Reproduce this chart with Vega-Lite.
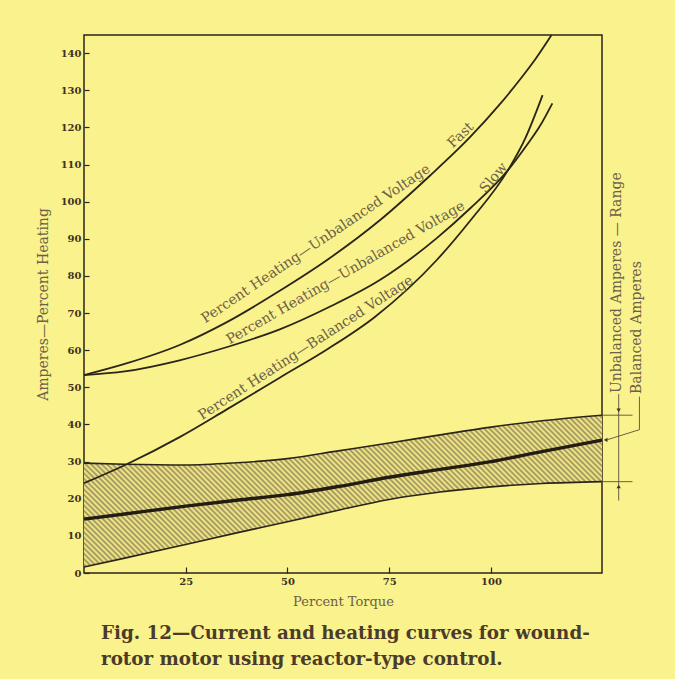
{
  "$schema": "https://vega.github.io/schema/vega-lite/v6.json",
  "width": 518,
  "height": 538,
  "autosize": {"type": "none"},
  "padding": {"left": 84, "top": 35, "right": 73, "bottom": 106},
  "background": "#faf28c",
  "config": {
    "view": {"stroke": "#2b2519", "strokeWidth": 1.5},
    "font": "DejaVu Serif",
    "axis": {
      "domain": false, "grid": false,
      "tickColor": "#2b2519", "tickWidth": 1.2,
      "labelFont": "DejaVu Serif", "labelFontSize": 10, "labelFontWeight": "bold", "labelColor": "#3b3222",
      "titleFont": "DejaVu Serif", "titleFontWeight": "normal", "titleColor": "#6b6048",
      "labelOverlap": false
    }
  },
  "title": {
    "text": ["Fig. 12—Current and heating curves for wound-", "rotor motor using reactor-type control."],
    "orient": "bottom",
    "anchor": "start",
    "frame": "group",
    "font": "DejaVu Serif",
    "fontSize": 18.3,
    "fontWeight": "bold",
    "color": "#4a3b2a",
    "dx": 17,
    "offset": 17,
    "lineHeight": 26
  },
  "encoding": {
    "x": {
      "field": "x", "type": "quantitative",
      "scale": {"domain": [0, 127.3], "nice": false, "zero": false},
      "axis": {
        "values": [25, 50, 75, 100],
        "title": "Percent Torque",
        "tickSize": -6,
        "labelPadding": 9,
        "titleFontSize": 13,
        "titlePadding": 9
      }
    },
    "y": {
      "field": "y", "type": "quantitative",
      "scale": {"domain": [0, 144.9], "nice": false, "zero": false},
      "axis": {
        "values": [0, 10, 20, 30, 40, 50, 60, 70, 80, 90, 100, 110, 120, 130, 140],
        "title": "Amperes—Percent Heating",
        "tickSize": -5,
        "labelPadding": 8,
        "titleFontSize": 14,
        "titlePadding": 10
      }
    }
  },
  "datasets": {
    "band": [
      {"x": 0, "lo": 1.6, "mid": 14.5, "hi": 29.6},
      {"x": 10, "lo": 4.0, "mid": 15.9, "hi": 29.3},
      {"x": 25, "lo": 7.7, "mid": 18.0, "hi": 29.1},
      {"x": 37.5, "lo": 10.8, "mid": 19.6, "hi": 29.7},
      {"x": 50, "lo": 13.8, "mid": 21.1, "hi": 30.8},
      {"x": 62.5, "lo": 16.9, "mid": 23.3, "hi": 32.9},
      {"x": 75, "lo": 19.8, "mid": 25.8, "hi": 35.0},
      {"x": 87.5, "lo": 21.8, "mid": 27.9, "hi": 37.2},
      {"x": 100, "lo": 23.2, "mid": 30.0, "hi": 39.3},
      {"x": 112.5, "lo": 24.1, "mid": 32.7, "hi": 41.0},
      {"x": 127.3, "lo": 24.6, "mid": 35.8, "hi": 42.5}
    ],
    "curves": [
      {"s": "fast", "x": 0, "y": 53.3},
      {"s": "fast", "x": 10, "y": 56.3},
      {"s": "fast", "x": 23.5, "y": 61.4},
      {"s": "fast", "x": 35, "y": 67.5},
      {"s": "fast", "x": 48.1, "y": 76},
      {"s": "fast", "x": 60, "y": 84.5},
      {"s": "fast", "x": 72.7, "y": 95},
      {"s": "fast", "x": 85, "y": 107},
      {"s": "fast", "x": 94.8, "y": 117.3},
      {"s": "fast", "x": 102, "y": 126},
      {"s": "fast", "x": 107, "y": 132.7},
      {"s": "fast", "x": 111, "y": 138.5},
      {"s": "fast", "x": 114.9, "y": 144.9},
      {"s": "slow", "x": 0, "y": 53.3},
      {"s": "slow", "x": 10, "y": 54.3},
      {"s": "slow", "x": 23.5, "y": 57.3},
      {"s": "slow", "x": 35, "y": 60.8},
      {"s": "slow", "x": 48.1, "y": 65.6},
      {"s": "slow", "x": 60, "y": 71.5},
      {"s": "slow", "x": 72.7, "y": 78.9},
      {"s": "slow", "x": 86.7, "y": 90.2},
      {"s": "slow", "x": 95, "y": 98.3},
      {"s": "slow", "x": 104.2, "y": 108.5},
      {"s": "slow", "x": 108.8, "y": 115.2},
      {"s": "slow", "x": 112, "y": 120.3},
      {"s": "slow", "x": 115.1, "y": 126.5},
      {"s": "bal", "x": 0, "y": 24.2},
      {"s": "bal", "x": 10.5, "y": 29.3},
      {"s": "bal", "x": 23.5, "y": 36.6},
      {"s": "bal", "x": 35, "y": 44},
      {"s": "bal", "x": 48.1, "y": 52.6},
      {"s": "bal", "x": 60, "y": 60.4},
      {"s": "bal", "x": 71.4, "y": 68.9},
      {"s": "bal", "x": 86.7, "y": 84.3},
      {"s": "bal", "x": 95, "y": 95},
      {"s": "bal", "x": 104.2, "y": 108.5},
      {"s": "bal", "x": 108.5, "y": 117.2},
      {"s": "bal", "x": 112.7, "y": 128.7}
    ],
    "ann": [
      {"g": "dim", "o": 1, "x": 131.4, "y": 48.2},
      {"g": "dim", "o": 2, "x": 131.4, "y": 19.5},
      {"g": "ext1", "o": 1, "x": 127.3, "y": 42.5},
      {"g": "ext1", "o": 2, "x": 134.8, "y": 42.5},
      {"g": "ext2", "o": 1, "x": 127.3, "y": 24.6},
      {"g": "ext2", "o": 2, "x": 134.8, "y": 24.6},
      {"g": "lead", "o": 1, "x": 136.5, "y": 47.5},
      {"g": "lead", "o": 2, "x": 136.5, "y": 38.6},
      {"g": "lead", "o": 3, "x": 128.6, "y": 35.9}
    ],
    "arrows": [
      {"dir": "down", "x": 131.4, "y": 43.8},
      {"dir": "up", "x": 131.4, "y": 23.3},
      {"dir": "left", "x": 128.2, "y": 35.85}
    ]
  },
  "layer": [
    {
      "data": {"name": "band"},
      "mark": {
        "type": "area",
        "fill": {
          "gradient": "linear",
          "x1": 0, "y1": 1, "x2": 1.1909, "y2": 0.6506,
          "stops": [
            {"offset": 0, "color": "#faf28c"}, {"offset": 0.004, "color": "#9c8e5c"}, {"offset": 0.008, "color": "#faf28c"}, {"offset": 0.012, "color": "#9c8e5c"}, {"offset": 0.016, "color": "#faf28c"}, {"offset": 0.02, "color": "#9c8e5c"}, {"offset": 0.024, "color": "#faf28c"}, {"offset": 0.028, "color": "#9c8e5c"}, {"offset": 0.032, "color": "#faf28c"}, {"offset": 0.036, "color": "#9c8e5c"},
            {"offset": 0.04, "color": "#faf28c"}, {"offset": 0.044, "color": "#9c8e5c"}, {"offset": 0.048, "color": "#faf28c"}, {"offset": 0.052, "color": "#9c8e5c"}, {"offset": 0.056, "color": "#faf28c"}, {"offset": 0.06, "color": "#9c8e5c"}, {"offset": 0.064, "color": "#faf28c"}, {"offset": 0.068, "color": "#9c8e5c"}, {"offset": 0.072, "color": "#faf28c"}, {"offset": 0.076, "color": "#9c8e5c"},
            {"offset": 0.08, "color": "#faf28c"}, {"offset": 0.084, "color": "#9c8e5c"}, {"offset": 0.088, "color": "#faf28c"}, {"offset": 0.092, "color": "#9c8e5c"}, {"offset": 0.096, "color": "#faf28c"}, {"offset": 0.1, "color": "#9c8e5c"}, {"offset": 0.104, "color": "#faf28c"}, {"offset": 0.108, "color": "#9c8e5c"}, {"offset": 0.112, "color": "#faf28c"}, {"offset": 0.116, "color": "#9c8e5c"},
            {"offset": 0.12, "color": "#faf28c"}, {"offset": 0.124, "color": "#9c8e5c"}, {"offset": 0.128, "color": "#faf28c"}, {"offset": 0.132, "color": "#9c8e5c"}, {"offset": 0.136, "color": "#faf28c"}, {"offset": 0.14, "color": "#9c8e5c"}, {"offset": 0.144, "color": "#faf28c"}, {"offset": 0.148, "color": "#9c8e5c"}, {"offset": 0.152, "color": "#faf28c"}, {"offset": 0.156, "color": "#9c8e5c"},
            {"offset": 0.16, "color": "#faf28c"}, {"offset": 0.164, "color": "#9c8e5c"}, {"offset": 0.168, "color": "#faf28c"}, {"offset": 0.172, "color": "#9c8e5c"}, {"offset": 0.176, "color": "#faf28c"}, {"offset": 0.18, "color": "#9c8e5c"}, {"offset": 0.184, "color": "#faf28c"}, {"offset": 0.188, "color": "#9c8e5c"}, {"offset": 0.192, "color": "#faf28c"}, {"offset": 0.196, "color": "#9c8e5c"},
            {"offset": 0.2, "color": "#faf28c"}, {"offset": 0.204, "color": "#9c8e5c"}, {"offset": 0.208, "color": "#faf28c"}, {"offset": 0.212, "color": "#9c8e5c"}, {"offset": 0.216, "color": "#faf28c"}, {"offset": 0.22, "color": "#9c8e5c"}, {"offset": 0.224, "color": "#faf28c"}, {"offset": 0.228, "color": "#9c8e5c"}, {"offset": 0.232, "color": "#faf28c"}, {"offset": 0.236, "color": "#9c8e5c"},
            {"offset": 0.24, "color": "#faf28c"}, {"offset": 0.244, "color": "#9c8e5c"}, {"offset": 0.248, "color": "#faf28c"}, {"offset": 0.252, "color": "#9c8e5c"}, {"offset": 0.256, "color": "#faf28c"}, {"offset": 0.26, "color": "#9c8e5c"}, {"offset": 0.264, "color": "#faf28c"}, {"offset": 0.268, "color": "#9c8e5c"}, {"offset": 0.272, "color": "#faf28c"}, {"offset": 0.276, "color": "#9c8e5c"},
            {"offset": 0.28, "color": "#faf28c"}, {"offset": 0.284, "color": "#9c8e5c"}, {"offset": 0.288, "color": "#faf28c"}, {"offset": 0.292, "color": "#9c8e5c"}, {"offset": 0.296, "color": "#faf28c"}, {"offset": 0.3, "color": "#9c8e5c"}, {"offset": 0.304, "color": "#faf28c"}, {"offset": 0.308, "color": "#9c8e5c"}, {"offset": 0.312, "color": "#faf28c"}, {"offset": 0.316, "color": "#9c8e5c"},
            {"offset": 0.32, "color": "#faf28c"}, {"offset": 0.324, "color": "#9c8e5c"}, {"offset": 0.328, "color": "#faf28c"}, {"offset": 0.332, "color": "#9c8e5c"}, {"offset": 0.336, "color": "#faf28c"}, {"offset": 0.34, "color": "#9c8e5c"}, {"offset": 0.344, "color": "#faf28c"}, {"offset": 0.348, "color": "#9c8e5c"}, {"offset": 0.352, "color": "#faf28c"}, {"offset": 0.356, "color": "#9c8e5c"},
            {"offset": 0.36, "color": "#faf28c"}, {"offset": 0.364, "color": "#9c8e5c"}, {"offset": 0.368, "color": "#faf28c"}, {"offset": 0.372, "color": "#9c8e5c"}, {"offset": 0.376, "color": "#faf28c"}, {"offset": 0.38, "color": "#9c8e5c"}, {"offset": 0.384, "color": "#faf28c"}, {"offset": 0.388, "color": "#9c8e5c"}, {"offset": 0.392, "color": "#faf28c"}, {"offset": 0.396, "color": "#9c8e5c"},
            {"offset": 0.4, "color": "#faf28c"}, {"offset": 0.404, "color": "#9c8e5c"}, {"offset": 0.408, "color": "#faf28c"}, {"offset": 0.412, "color": "#9c8e5c"}, {"offset": 0.416, "color": "#faf28c"}, {"offset": 0.42, "color": "#9c8e5c"}, {"offset": 0.424, "color": "#faf28c"}, {"offset": 0.428, "color": "#9c8e5c"}, {"offset": 0.432, "color": "#faf28c"}, {"offset": 0.436, "color": "#9c8e5c"},
            {"offset": 0.44, "color": "#faf28c"}, {"offset": 0.444, "color": "#9c8e5c"}, {"offset": 0.448, "color": "#faf28c"}, {"offset": 0.452, "color": "#9c8e5c"}, {"offset": 0.456, "color": "#faf28c"}, {"offset": 0.46, "color": "#9c8e5c"}, {"offset": 0.464, "color": "#faf28c"}, {"offset": 0.468, "color": "#9c8e5c"}, {"offset": 0.472, "color": "#faf28c"}, {"offset": 0.476, "color": "#9c8e5c"},
            {"offset": 0.48, "color": "#faf28c"}, {"offset": 0.484, "color": "#9c8e5c"}, {"offset": 0.488, "color": "#faf28c"}, {"offset": 0.492, "color": "#9c8e5c"}, {"offset": 0.496, "color": "#faf28c"}, {"offset": 0.5, "color": "#9c8e5c"}, {"offset": 0.504, "color": "#faf28c"}, {"offset": 0.508, "color": "#9c8e5c"}, {"offset": 0.512, "color": "#faf28c"}, {"offset": 0.516, "color": "#9c8e5c"},
            {"offset": 0.52, "color": "#faf28c"}, {"offset": 0.524, "color": "#9c8e5c"}, {"offset": 0.528, "color": "#faf28c"}, {"offset": 0.532, "color": "#9c8e5c"}, {"offset": 0.536, "color": "#faf28c"}, {"offset": 0.54, "color": "#9c8e5c"}, {"offset": 0.544, "color": "#faf28c"}, {"offset": 0.548, "color": "#9c8e5c"}, {"offset": 0.552, "color": "#faf28c"}, {"offset": 0.556, "color": "#9c8e5c"},
            {"offset": 0.56, "color": "#faf28c"}, {"offset": 0.564, "color": "#9c8e5c"}, {"offset": 0.568, "color": "#faf28c"}, {"offset": 0.572, "color": "#9c8e5c"}, {"offset": 0.576, "color": "#faf28c"}, {"offset": 0.58, "color": "#9c8e5c"}, {"offset": 0.584, "color": "#faf28c"}, {"offset": 0.588, "color": "#9c8e5c"}, {"offset": 0.592, "color": "#faf28c"}, {"offset": 0.596, "color": "#9c8e5c"},
            {"offset": 0.6, "color": "#faf28c"}, {"offset": 0.604, "color": "#9c8e5c"}, {"offset": 0.608, "color": "#faf28c"}, {"offset": 0.612, "color": "#9c8e5c"}, {"offset": 0.616, "color": "#faf28c"}, {"offset": 0.62, "color": "#9c8e5c"}, {"offset": 0.624, "color": "#faf28c"}, {"offset": 0.628, "color": "#9c8e5c"}, {"offset": 0.632, "color": "#faf28c"}, {"offset": 0.636, "color": "#9c8e5c"},
            {"offset": 0.64, "color": "#faf28c"}, {"offset": 0.644, "color": "#9c8e5c"}, {"offset": 0.648, "color": "#faf28c"}, {"offset": 0.652, "color": "#9c8e5c"}, {"offset": 0.656, "color": "#faf28c"}, {"offset": 0.66, "color": "#9c8e5c"}, {"offset": 0.664, "color": "#faf28c"}, {"offset": 0.668, "color": "#9c8e5c"}, {"offset": 0.672, "color": "#faf28c"}, {"offset": 0.676, "color": "#9c8e5c"},
            {"offset": 0.68, "color": "#faf28c"}, {"offset": 0.684, "color": "#9c8e5c"}, {"offset": 0.688, "color": "#faf28c"}, {"offset": 0.692, "color": "#9c8e5c"}, {"offset": 0.696, "color": "#faf28c"}, {"offset": 0.7, "color": "#9c8e5c"}, {"offset": 0.704, "color": "#faf28c"}, {"offset": 0.708, "color": "#9c8e5c"}, {"offset": 0.712, "color": "#faf28c"}, {"offset": 0.716, "color": "#9c8e5c"},
            {"offset": 0.72, "color": "#faf28c"}, {"offset": 0.724, "color": "#9c8e5c"}, {"offset": 0.728, "color": "#faf28c"}, {"offset": 0.732, "color": "#9c8e5c"}, {"offset": 0.736, "color": "#faf28c"}, {"offset": 0.74, "color": "#9c8e5c"}, {"offset": 0.744, "color": "#faf28c"}, {"offset": 0.748, "color": "#9c8e5c"}, {"offset": 0.752, "color": "#faf28c"}, {"offset": 0.756, "color": "#9c8e5c"},
            {"offset": 0.76, "color": "#faf28c"}, {"offset": 0.764, "color": "#9c8e5c"}, {"offset": 0.768, "color": "#faf28c"}, {"offset": 0.772, "color": "#9c8e5c"}, {"offset": 0.776, "color": "#faf28c"}, {"offset": 0.78, "color": "#9c8e5c"}, {"offset": 0.784, "color": "#faf28c"}, {"offset": 0.788, "color": "#9c8e5c"}, {"offset": 0.792, "color": "#faf28c"}, {"offset": 0.796, "color": "#9c8e5c"},
            {"offset": 0.8, "color": "#faf28c"}, {"offset": 0.804, "color": "#9c8e5c"}, {"offset": 0.808, "color": "#faf28c"}, {"offset": 0.812, "color": "#9c8e5c"}, {"offset": 0.816, "color": "#faf28c"}, {"offset": 0.82, "color": "#9c8e5c"}, {"offset": 0.824, "color": "#faf28c"}, {"offset": 0.828, "color": "#9c8e5c"}, {"offset": 0.832, "color": "#faf28c"}, {"offset": 0.836, "color": "#9c8e5c"},
            {"offset": 0.84, "color": "#faf28c"}, {"offset": 0.844, "color": "#9c8e5c"}, {"offset": 0.848, "color": "#faf28c"}, {"offset": 0.852, "color": "#9c8e5c"}, {"offset": 0.856, "color": "#faf28c"}, {"offset": 0.86, "color": "#9c8e5c"}, {"offset": 0.864, "color": "#faf28c"}, {"offset": 0.868, "color": "#9c8e5c"}, {"offset": 0.872, "color": "#faf28c"}, {"offset": 0.876, "color": "#9c8e5c"},
            {"offset": 0.88, "color": "#faf28c"}, {"offset": 0.884, "color": "#9c8e5c"}, {"offset": 0.888, "color": "#faf28c"}, {"offset": 0.892, "color": "#9c8e5c"}, {"offset": 0.896, "color": "#faf28c"}, {"offset": 0.9, "color": "#9c8e5c"}, {"offset": 0.904, "color": "#faf28c"}, {"offset": 0.908, "color": "#9c8e5c"}, {"offset": 0.912, "color": "#faf28c"}, {"offset": 0.916, "color": "#9c8e5c"},
            {"offset": 0.92, "color": "#faf28c"}, {"offset": 0.924, "color": "#9c8e5c"}, {"offset": 0.928, "color": "#faf28c"}, {"offset": 0.932, "color": "#9c8e5c"}, {"offset": 0.936, "color": "#faf28c"}, {"offset": 0.94, "color": "#9c8e5c"}, {"offset": 0.944, "color": "#faf28c"}, {"offset": 0.948, "color": "#9c8e5c"}, {"offset": 0.952, "color": "#faf28c"}, {"offset": 0.956, "color": "#9c8e5c"},
            {"offset": 0.96, "color": "#faf28c"}, {"offset": 0.964, "color": "#9c8e5c"}, {"offset": 0.968, "color": "#faf28c"}, {"offset": 0.972, "color": "#9c8e5c"}, {"offset": 0.976, "color": "#faf28c"}, {"offset": 0.98, "color": "#9c8e5c"}, {"offset": 0.984, "color": "#faf28c"}, {"offset": 0.988, "color": "#9c8e5c"}, {"offset": 0.992, "color": "#faf28c"}, {"offset": 0.996, "color": "#9c8e5c"},
            {"offset": 1, "color": "#faf28c"}
          ]
        }
      },
      "encoding": {
        "y": {
          "field": "lo", "type": "quantitative",
          "scale": {"domain": [0, 144.9], "nice": false, "zero": false},
          "axis": {
            "values": [0, 10, 20, 30, 40, 50, 60, 70, 80, 90, 100, 110, 120, 130, 140],
            "title": "Amperes—Percent Heating",
            "tickSize": -5,
            "labelPadding": 8,
            "titleFontSize": 14,
            "titlePadding": 10
          }
        },
        "y2": {"field": "hi"}
      }
    },
    {
      "data": {"name": "band"},
      "mark": {"type": "line", "color": "#2b2519", "strokeWidth": 1.6, "interpolate": "monotone"},
      "encoding": {
        "y": {
          "field": "hi", "type": "quantitative",
          "scale": {"domain": [0, 144.9], "nice": false, "zero": false},
          "axis": {
            "values": [0, 10, 20, 30, 40, 50, 60, 70, 80, 90, 100, 110, 120, 130, 140],
            "title": "Amperes—Percent Heating",
            "tickSize": -5,
            "labelPadding": 8,
            "titleFontSize": 14,
            "titlePadding": 10
          }
        }
      }
    },
    {
      "data": {"name": "band"},
      "mark": {"type": "line", "color": "#2b2519", "strokeWidth": 1.6, "interpolate": "monotone"},
      "encoding": {
        "y": {
          "field": "lo", "type": "quantitative",
          "scale": {"domain": [0, 144.9], "nice": false, "zero": false},
          "axis": {
            "values": [0, 10, 20, 30, 40, 50, 60, 70, 80, 90, 100, 110, 120, 130, 140],
            "title": "Amperes—Percent Heating",
            "tickSize": -5,
            "labelPadding": 8,
            "titleFontSize": 14,
            "titlePadding": 10
          }
        }
      }
    },
    {
      "data": {"name": "band"},
      "mark": {"type": "line", "color": "#221c12", "strokeWidth": 3.4, "interpolate": "monotone"},
      "encoding": {
        "y": {
          "field": "mid", "type": "quantitative",
          "scale": {"domain": [0, 144.9], "nice": false, "zero": false},
          "axis": {
            "values": [0, 10, 20, 30, 40, 50, 60, 70, 80, 90, 100, 110, 120, 130, 140],
            "title": "Amperes—Percent Heating",
            "tickSize": -5,
            "labelPadding": 8,
            "titleFontSize": 14,
            "titlePadding": 10
          }
        }
      }
    },
    {
      "data": {"name": "curves"},
      "mark": {"type": "line", "color": "#2b2519", "strokeWidth": 1.8, "interpolate": "monotone"},
      "encoding": {
        "detail": {"field": "s", "type": "nominal"}
      }
    },
    {
      "data": {"name": "ann"},
      "mark": {"type": "line", "color": "#5a5040", "strokeWidth": 0.9, "clip": false},
      "encoding": {
        "detail": {"field": "g", "type": "nominal"},
        "order": {"field": "o", "type": "quantitative"}
      }
    },
    {
      "data": {"name": "arrows"},
      "mark": {"type": "point", "filled": true, "size": 18, "color": "#3b3222", "opacity": 1, "clip": false},
      "encoding": {
        "shape": {"field": "dir", "type": "nominal", "scale": {"domain": ["down", "up", "left"], "range": ["triangle-down", "triangle-up", "triangle-left"]}, "legend": null}
      }
    },
    {
      "data": {"values": [{"label": "Percent Heating—Unbalanced Voltage", "x": 57.0, "y": 88.6}]},
      "mark": {"type": "text", "angle": -34, "font": "DejaVu Serif", "fontSize": 14, "color": "#6b6048", "align": "center", "baseline": "middle"},
      "encoding": {"text": {"field": "label"}}
    },
    {
      "data": {"values": [{"label": "Fast", "x": 92.6, "y": 117.9}]},
      "mark": {"type": "text", "angle": -44, "font": "DejaVu Serif", "fontSize": 14, "color": "#6b6048", "align": "center", "baseline": "middle"},
      "encoding": {"text": {"field": "label"}}
    },
    {
      "data": {"values": [{"label": "Percent Heating—Unbalanced Voltage", "x": 64.3, "y": 80.8}]},
      "mark": {"type": "text", "angle": -30, "font": "DejaVu Serif", "fontSize": 14, "color": "#6b6048", "align": "center", "baseline": "middle"},
      "encoding": {"text": {"field": "label"}}
    },
    {
      "data": {"values": [{"label": "Slow", "x": 100.7, "y": 106.4}]},
      "mark": {"type": "text", "angle": -50, "font": "DejaVu Serif", "fontSize": 14, "color": "#6b6048", "align": "center", "baseline": "middle"},
      "encoding": {"text": {"field": "label"}}
    },
    {
      "data": {"values": [{"label": "Percent Heating—Balanced Voltage", "x": 54.5, "y": 60.6}]},
      "mark": {"type": "text", "angle": -33, "font": "DejaVu Serif", "fontSize": 14, "color": "#6b6048", "align": "center", "baseline": "middle"},
      "encoding": {"text": {"field": "label"}}
    },
    {
      "data": {"values": [
        {"label": "Unbalanced Amperes — Range", "x": 131.1, "y": 78.2},
        {"label": "Balanced Amperes", "x": 136.0, "y": 66.1}
      ]},
      "mark": {"type": "text", "angle": -90, "font": "DejaVu Serif", "fontSize": 14, "color": "#6b6048", "align": "center", "baseline": "middle", "clip": false},
      "encoding": {"text": {"field": "label"}}
    }
  ]
}
